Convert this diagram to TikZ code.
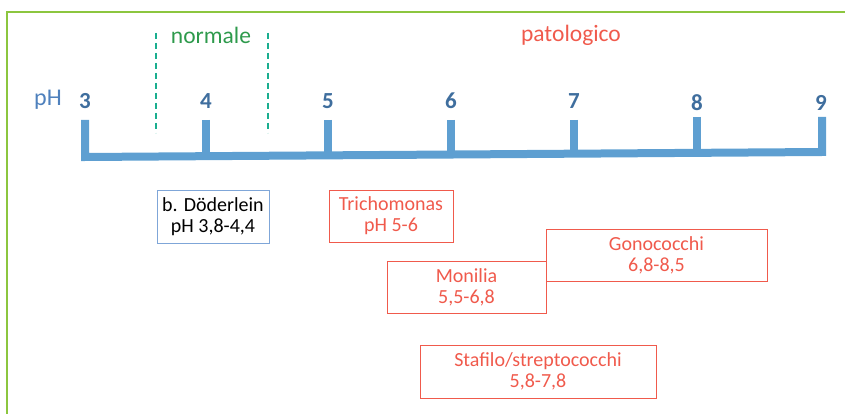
\documentclass[tikz,border=0pt]{standalone}
\usepackage{fontspec}
\setmainfont{Carlito}
\definecolor{axisblue}{HTML}{5E9FD1}
\definecolor{numblue}{HTML}{3F6E9E}
\definecolor{phblue}{HTML}{4F81BD}
\definecolor{framegreen}{HTML}{8CC63F}
\definecolor{dashteal}{HTML}{1AAE8F}
\definecolor{normgreen}{HTML}{2E9A4C}
\definecolor{patred}{HTML}{F05A4C}
\definecolor{boxblue}{HTML}{7FA6D8}
\begin{document}
\begin{tikzpicture}[x=1pt,y=-1pt,
  num/.style={font=\fontsize{23}{26}\selectfont\bfseries, text=numblue, inner sep=0pt},
  org/.style={draw=patred, text=patred, line width=1pt, align=center, font=\fontsize{20}{21}\selectfont, inner sep=0pt},
  tick/.style={draw=axisblue, line width=8pt},
  vline/.style={draw=dashteal, line width=2.8pt, dash pattern=on 6pt off 4pt}]
\useasboundingbox (0,0) rectangle (845,414);
\draw[framegreen, line width=1.2pt] (7,414) -- (7,12) -- (845,12);
% axis
\coordinate (a3) at (85,120);
\coordinate (b3) at (85,157);
\coordinate (b9) at (822,152);
\coordinate (a9) at (822,117);
\draw[tick, line join=miter] (a3) -- (b3) -- (b9) -- (a9);
\foreach \x/\n/\yt in {206/4/120,328/5/120,451/6/120,574/7/120,697/8/117}{
  \coordinate (t\n) at (\x,\yt);
  \coordinate (tb\n) at (\x,{157-(\x-85)*5/737});
  \draw[tick] (t\n) -- (tb\n);
}
\node[num] (n3) at (85,101) {3};
\node[num] (n4) at (206,101) {4};
\node[num] (n5) at (328,101) {5};
\node[num] (n6) at (451,101) {6};
\node[num] (n7) at (574,101) {7};
\node[num] (n8) at (697,103) {8};
\node[num] (n9) at (821,103) {9};
\node[text=phblue, font=\fontsize{24}{28}\selectfont, inner sep=0pt] (ph) at (48,100) {pH};
% dashed limits
\coordinate (d1a) at (156,33); \coordinate (d1b) at (156,133);
\coordinate (d2a) at (268,33); \coordinate (d2b) at (268,133);
\draw[vline] (d1a) -- (d1b);
\draw[vline] (d2a) -- (d2b);
\node[text=normgreen, font=\fontsize{23.5}{28}\selectfont, inner sep=0pt] (norm) at (211,35) {normale};
\node[text=patred, font=\fontsize{23.5}{28}\selectfont, inner sep=0pt] (pat) at (571,35) {patologico};
% boxes
\node[draw=boxblue, line width=1pt, align=center, font=\fontsize{20}{21}\selectfont, inner sep=0pt,
  minimum width=112pt, minimum height=53pt] (dod) at (213,216.5) {b. Döderlein\\pH 3,8-4,4};
\node[org, minimum width=124pt, minimum height=52pt] (tri) at (391,216) {Trichomonas\\pH 5-6};
\node[org, minimum width=221pt, minimum height=52pt] (gon) at (656.5,255) {Gonococchi\\6,8-8,5};
\node[org, minimum width=159pt, minimum height=52pt, fill=white] (mon) at (466.5,287) {Monilia\\5,5-6,8};
\node[org, minimum width=236pt, minimum height=53pt] (sta) at (538,371.5) {Stafilo/streptococchi\\5,8-7,8};
\end{tikzpicture}
\end{document}
